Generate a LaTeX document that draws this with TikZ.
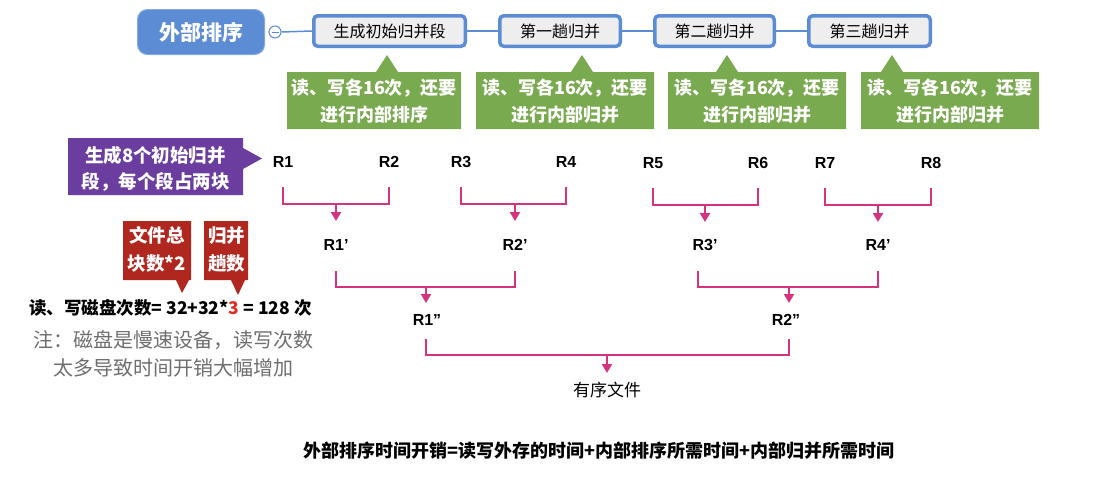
\documentclass[tikz,border=0pt]{standalone}
\usepackage{fontspec}
\setmainfont{Noto Sans CJK SC}
\newfontfamily\lat{Liberation Sans}
\usetikzlibrary{arrows.meta}
\definecolor{rootblue}{HTML}{5B8CD4}
\definecolor{boxgray}{HTML}{EEEEEE}
\definecolor{cgreen}{HTML}{79AA4F}
\definecolor{cpurple}{HTML}{6A3D9E}
\definecolor{cred}{HTML}{B0271F}
\definecolor{hired}{HTML}{DC2E1E}
\definecolor{mag}{HTML}{D6337F}
\definecolor{notegray}{HTML}{6E6E6E}
\tikzset{
  stagebox/.style={draw=rootblue, line width=3.5pt, fill=boxgray, rounded corners=4pt,
    minimum height=30.5pt, inner sep=0pt, font=\fontsize{16}{19}\selectfont},
  rootbox/.style={fill=rootblue, draw=rootblue!75!white, line width=1pt, rounded corners=10pt,
    minimum width=127pt, minimum height=45pt, inner sep=0pt, text=white,
    font=\fontsize{21}{24}\selectfont\bfseries},
  calltext/.style={align=center, text=white, inner sep=0pt,
    font=\fontsize{18}{27}\selectfont\bfseries},
  redtext/.style={align=center, text=white, inner sep=0pt,
    font=\fontsize{18.5}{28}\selectfont\bfseries},
  rlab/.style={inner sep=0pt, font={\lat\bfseries\fontsize{16}{18}\selectfont}},
  mline/.style={draw=mag, line width=2pt},
  marrow/.style={draw=mag, line width=2pt, -{Triangle[width=10pt,length=9pt]}},
  blink/.style={draw=rootblue, line width=1.5pt}
}
\begin{document}
\begin{tikzpicture}[x=1pt,y=-1pt]
\useasboundingbox (0,0) rectangle (1112,477);
\fill[white] (0,0) rectangle (1112,477);

% ---- top row ----
\node[rootbox] (root) at (201,32) {外部排序};
\node[circle, draw=rootblue, fill=white, line width=1pt, minimum size=12pt, inner sep=0pt] (tog) at (275,32) {};
\draw[rootblue, line width=1pt] ([xshift=-3.5pt]tog.center) -- ([xshift=3.5pt]tog.center);

\node[stagebox, minimum width=151.5pt] (b1) at (389.5,31) {生成初始归并段};
\node[stagebox, minimum width=120.5pt] (b2) at (560,31) {第一趟归并};
\node[stagebox, minimum width=119.5pt] (b3) at (714.5,31) {第二趟归并};
\node[stagebox, minimum width=121.5pt] (b4) at (869.5,31) {第三趟归并};

\draw[blink] (tog.east) -- (b1.west);
\draw[blink] (b1.east) -- (b2.west);
\draw[blink] (b2.east) -- (b3.west);
\draw[blink] (b3.east) -- (b4.west);

% ---- green callouts ----
\fill[cgreen] (287,72) -- (376,72) -- (387,55) -- (398,72) -- (461,72) -- (461,129) -- (287,129) -- cycle;
\node[calltext] (g1) at (374,101) {读、写各16次，还要\\进行内部排序};
\fill[cgreen] (476,72) -- (571,72) -- (582,55) -- (593,72) -- (654,72) -- (654,129) -- (476,129) -- cycle;
\node[calltext] (g2) at (565,101) {读、写各16次，还要\\进行内部归并};
\fill[cgreen] (668,72) -- (716,72) -- (727,55) -- (738,72) -- (846,72) -- (846,129) -- (668,129) -- cycle;
\node[calltext] (g3) at (757,101) {读、写各16次，还要\\进行内部归并};
\fill[cgreen] (861,72) -- (881,72) -- (892,55) -- (903,72) -- (1039,72) -- (1039,129) -- (861,129) -- cycle;
\node[calltext] (g4) at (950,101) {读、写各16次，还要\\进行内部归并};

% ---- purple callout ----
\fill[cpurple] (68,138) -- (243,138) -- (243,148) -- (262,158.5) -- (243,169) -- (243,195) -- (68,195) -- cycle;
\node[calltext, font=\fontsize{18.5}{26}\selectfont\bfseries] (pur) at (155.5,169) {生成8个初始归并\\段，每个段占两块};

% ---- red callouts ----
\fill[cred] (123,221) -- (191,221) -- (191,280) -- (189,280) -- (182,293) -- (176,280) -- (123,280) -- cycle;
\node[redtext] (red1) at (157,249.5) {文件总\\块数*2};
\fill[cred] (204,221) -- (248,221) -- (248,280) -- (245,280) -- (238,295) -- (231,280) -- (204,280) -- cycle;
\node[redtext] (red2) at (226.5,249.5) {归并\\趟数};

% ---- formula and note ----
\node[anchor=west, inner sep=0pt, font=\fontsize{17.5}{20}\selectfont\bfseries] (formula) at (29,308)
  {读、写磁盘次数= 32+32*\textcolor{hired}{3} = 128 次};
\node[align=center, inner sep=0pt, text=notegray, font=\fontsize{20}{28}\selectfont] (note) at (173.5,354)
  {注：磁盘是慢速设备，读写次数\\太多导致时间开销大幅增加};

% ---- runs ----
\node[rlab] (R1) at (283,162) {R1};
\node[rlab] (R2) at (389,162) {R2};
\node[rlab] (R3) at (461,162) {R3};
\node[rlab] (R4) at (566,162) {R4};
\node[rlab] (R5) at (653,163) {R5};
\node[rlab] (R6) at (758,163) {R6};
\node[rlab] (R7) at (825,163) {R7};
\node[rlab] (R8) at (931,163) {R8};

\node[rlab] (R1p) at (336,245) {R1’};
\node[rlab] (R2p) at (515,245) {R2’};
\node[rlab] (R3p) at (705,245) {R3’};
\node[rlab] (R4p) at (878,245) {R4’};

\node[rlab] (R1pp) at (427,320) {R1”};
\node[rlab] (R2pp) at (786,320) {R2”};

\node[inner sep=0pt, font=\fontsize{17}{20}\selectfont] (out) at (607,390) {有序文件};

% level 1 brackets
\draw[mline] (R1 |- 0,187) -- (R1 |- 0,204) -- (R2 |- 0,204) -- (R2 |- 0,187);
\draw[marrow] (R1p |- 0,204) -- (R1p |- 0,221);
\draw[mline] (R3 |- 0,187) -- (R3 |- 0,204) -- (R4 |- 0,204) -- (R4 |- 0,187);
\draw[marrow] (R2p |- 0,204) -- (R2p |- 0,221);
\draw[mline] (R5 |- 0,188) -- (R5 |- 0,205) -- (R6 |- 0,205) -- (R6 |- 0,188);
\draw[marrow] (R3p |- 0,205) -- (R3p |- 0,222);
\draw[mline] (R7 |- 0,188) -- (R7 |- 0,205) -- (R8 |- 0,205) -- (R8 |- 0,188);
\draw[marrow] (R4p |- 0,205) -- (R4p |- 0,222);

% level 2 brackets
\draw[mline] (R1p |- 0,271) -- (R1p |- 0,287) -- (R2p |- 0,287) -- (R2p |- 0,271);
\draw[marrow] ([xshift=-1pt]R1pp.center |- 0,287) -- ([xshift=-1pt]R1pp.center |- 0,303);
\draw[mline] ([xshift=-7pt]R3p.center |- 0,271) -- ([xshift=-7pt]R3p.center |- 0,287) -- (R4p |- 0,287) -- (R4p |- 0,271);
\draw[marrow] ([xshift=3pt]R2pp.center |- 0,287) -- ([xshift=3pt]R2pp.center |- 0,303);

% level 3 bracket
\draw[mline] ([xshift=-1pt]R1pp.center |- 0,339) -- ([xshift=-1pt]R1pp.center |- 0,355) -- ([xshift=3pt]R2pp.center |- 0,355) -- ([xshift=3pt]R2pp.center |- 0,339);
\draw[marrow] (out |- 0,355) -- (out |- 0,373);

% ---- bottom line ----
\node[inner sep=0pt, font=\fontsize{18}{20}\selectfont\bfseries] (total) at (599,451)
  {外部排序时间开销=读写外存的时间+内部排序所需时间+内部归并所需时间};
\end{tikzpicture}
\end{document}
